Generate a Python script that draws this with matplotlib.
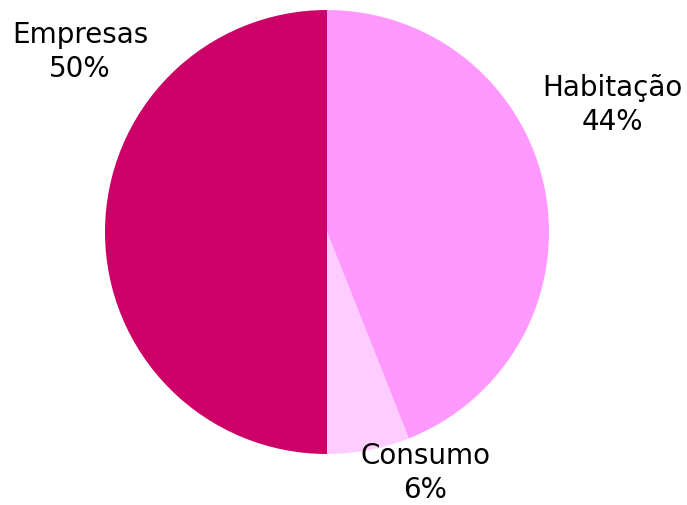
import matplotlib.pyplot as plt

labels = ['Habitação', 'Consumo', 'Empresas']
shares = [44, 6, 50]
colors = ['#FF99FF', '#FFCCFF', '#CC0066']
# label positions in units of pie radius
label_x = [1.284, 0.442, -1.113]
label_y = [0.572, -1.085, 0.811]

W, H = 687, 505
fig = plt.figure(figsize=(W / 100, H / 100), dpi=100)
ax = fig.add_axes([105 / W, (H - 454) / H, 444 / W, 444 / H])
ax.pie(shares, colors=colors, startangle=90, counterclock=False,
       wedgeprops=dict(linewidth=0))
ax.set_xlim(-1, 1)
ax.set_ylim(-1, 1)
ax.set_aspect('equal')
ax.axis('off')

for lab, v, x, y in zip(labels, shares, label_x, label_y):
    ax.text(x, y, f'{lab}\n{v}%', ha='center', va='center',
            fontsize=20, family='DejaVu Sans', linespacing=1.3)

fig.savefig('out.png', dpi=100)
